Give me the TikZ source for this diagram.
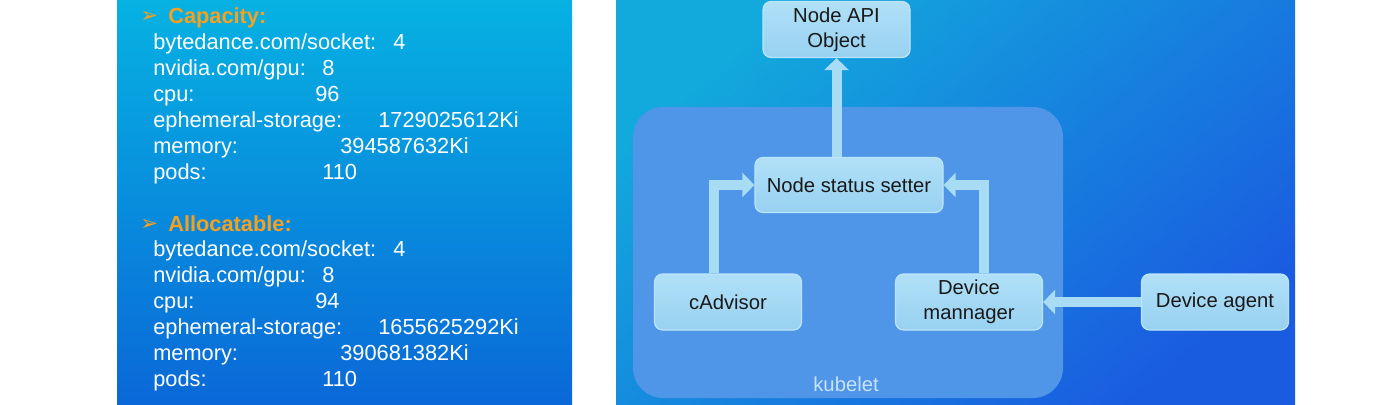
\documentclass[tikz,border=0pt]{standalone}
\usepackage{fontspec}
\setmainfont{Liberation Sans}
\newfontfamily\dingfont{DejaVu Sans}
\usetikzlibrary{positioning, arrows.meta, calc}

\definecolor{leftTop}{HTML}{06B2E2}
\definecolor{leftBot}{HTML}{0A68D8}
\definecolor{rightTop}{HTML}{12AADC}
\definecolor{rightMid}{HTML}{0A7CE0}
\definecolor{rightBot}{HTML}{1A5CE0}
\definecolor{kubeFill}{HTML}{4F95E8}
\definecolor{kubeText}{HTML}{C9E3F8}
\definecolor{boxTop}{HTML}{B0E0F7}
\definecolor{boxBot}{HTML}{98D1F1}
\definecolor{boxLine}{HTML}{BDE5F9}
\definecolor{flowCol}{HTML}{A8DBF4}
\definecolor{headCol}{HTML}{F5A020}

\begin{document}
\begin{tikzpicture}[
    x=0.25mm, y=-0.25mm,
    font=\fontsize{14.4}{17.5}\selectfont,
    comp/.style={rounded corners=2mm, draw=boxLine, line width=0.3mm,
                 top color=boxTop, bottom color=boxBot, text=black!90,
                 align=center, inner sep=1mm, minimum width=36.75mm, minimum height=14mm},
    flow/.style={-{Triangle[length=3mm, width=6mm]}, draw=flowCol, line width=2.5mm},
    listkey/.style={anchor=base west, inner sep=0pt, text=white, font=\fontsize{15.5}{18}\selectfont},
    listhead/.style={anchor=base west, inner sep=0pt, text=headCol, font=\fontsize{15.5}{18}\selectfont\bfseries},
    bullet/.style={anchor=base west, inner sep=0pt, text=headCol, font=\fontsize{15}{18}\dingfont}
]
\useasboundingbox[fill=white] (0,0) rectangle (1400,405);

% slide backgrounds
\fill[top color=leftTop, bottom color=leftBot] (117,0) rectangle (572,405);
\fill[top color=rightTop, middle color=rightMid, bottom color=rightBot, shading angle=40] (616,0) rectangle (1295,405);

% left slide: node resources
\node[bullet] (capbul) at (140,23) {➢};
\node[listhead] (caphead) at (168,24) {Capacity:};
\foreach \k/\v/\vx [count=\i] in {{bytedance.com/socket:}/4/393, {nvidia.com/gpu:}/8/322,
        cpu:/96/315, ephemeral-storage:/1729025612Ki/378, memory:/394587632Ki/340, pods:/110/322}{
    \node[listkey] (capkey\i) at (153,24+25.85*\i) {\k};
    \node[listkey] (capval\i) at (\vx,24+25.85*\i) {\v};
}
\node[bullet] (allbul) at (140,230) {➢};
\node[listhead] (allhead) at (168,231) {Allocatable:};
\foreach \k/\v/\vx [count=\i] in {{bytedance.com/socket:}/4/393, {nvidia.com/gpu:}/8/322,
        cpu:/94/315, ephemeral-storage:/1655625292Ki/378, memory:/390681382Ki/340, pods:/110/322}{
    \node[listkey] (allkey\i) at (153,231+25.85*\i) {\k};
    \node[listkey] (allval\i) at (\vx,231+25.85*\i) {\v};
}

% right slide: kubelet
\fill[kubeFill, rounded corners=7.5mm] (633,107) rectangle (1063,398);
\node[text=kubeText] (kubelet) at (846,384) {kubelet};

\node[comp] (api)    at (836.5,29.5) {Node API\\Object};
\node[comp, minimum width=47mm, minimum height=13.75mm] (setter) at (849,185) {Node status setter};
\node[comp] (cadv)   at (728,302)  {cAdvisor};
\node[comp] (devmgr) at (969,302)  {Device\\mannager};
\node[comp] (agent)  at (1215,302) {Device agent};

\draw[flow] (setter.north -| api.south) -- (api.south);
\draw[flow] ($(cadv.north)+(-14,0)$) |- (setter.west);
\draw[flow] ($(devmgr.north)+(15,0)$) |- (setter.east);
\draw[flow] (agent) -- (devmgr);
\end{tikzpicture}
\end{document}
